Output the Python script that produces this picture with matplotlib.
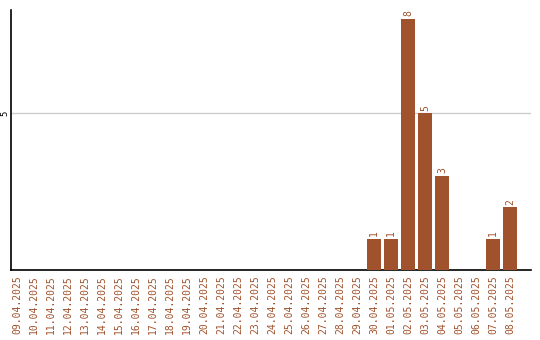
import matplotlib
matplotlib.use("Agg")
import matplotlib.pyplot as plt

dates = ["09.04.2025", "10.04.2025", "11.04.2025", "12.04.2025", "13.04.2025",
         "14.04.2025", "15.04.2025", "16.04.2025", "17.04.2025", "18.04.2025",
         "19.04.2025", "20.04.2025", "21.04.2025", "22.04.2025", "23.04.2025",
         "24.04.2025", "25.04.2025", "26.04.2025", "27.04.2025", "28.04.2025",
         "29.04.2025", "30.04.2025", "01.05.2025", "02.05.2025", "03.05.2025",
         "04.05.2025", "05.05.2025", "06.05.2025", "07.05.2025", "08.05.2025"]
counts = [0, 0, 0, 0, 0, 0, 0, 0, 0, 0,
          0, 0, 0, 0, 0, 0, 0, 0, 0, 0,
          0, 1, 1, 8, 5, 3, 0, 0, 1, 2]

brown = "#a0522d"
plt.rcParams['font.family'] = ['DejaVu Sans Mono']

fig = plt.figure(figsize=(5.4, 3.4), dpi=100)
ax = fig.add_axes([0.0195, 0.206, 0.963, 0.764])

x = list(range(len(dates)))
ax.bar(x, counts, width=0.82, color=brown, zorder=3)
for xi, c in zip(x, counts):
    if c > 0:
        ax.text(xi, c + 0.08, str(c), rotation=90, ha='center', va='bottom',
                fontsize=7, color=brown)

ax.set_xlim(-0.38, 30.2)
ax.set_ylim(0, 8.28)
ax.set_xticks(x)
ax.set_xticklabels(dates, rotation=90, fontsize=7, color=brown)
ax.set_yticks([5])
ax.set_yticklabels(["5"], rotation=90, fontsize=6.5, va='center')
ax.tick_params(axis='x', length=0, pad=4)
ax.tick_params(axis='y', length=0, pad=1)
ax.grid(axis='y', color='#cccccc', linewidth=1, zorder=0)
for s in ['top', 'right']:
    ax.spines[s].set_visible(False)
for s in ['left', 'bottom']:
    ax.spines[s].set_color('black')
    ax.spines[s].set_linewidth(1.2)

fig.savefig("out.png", dpi=100)
